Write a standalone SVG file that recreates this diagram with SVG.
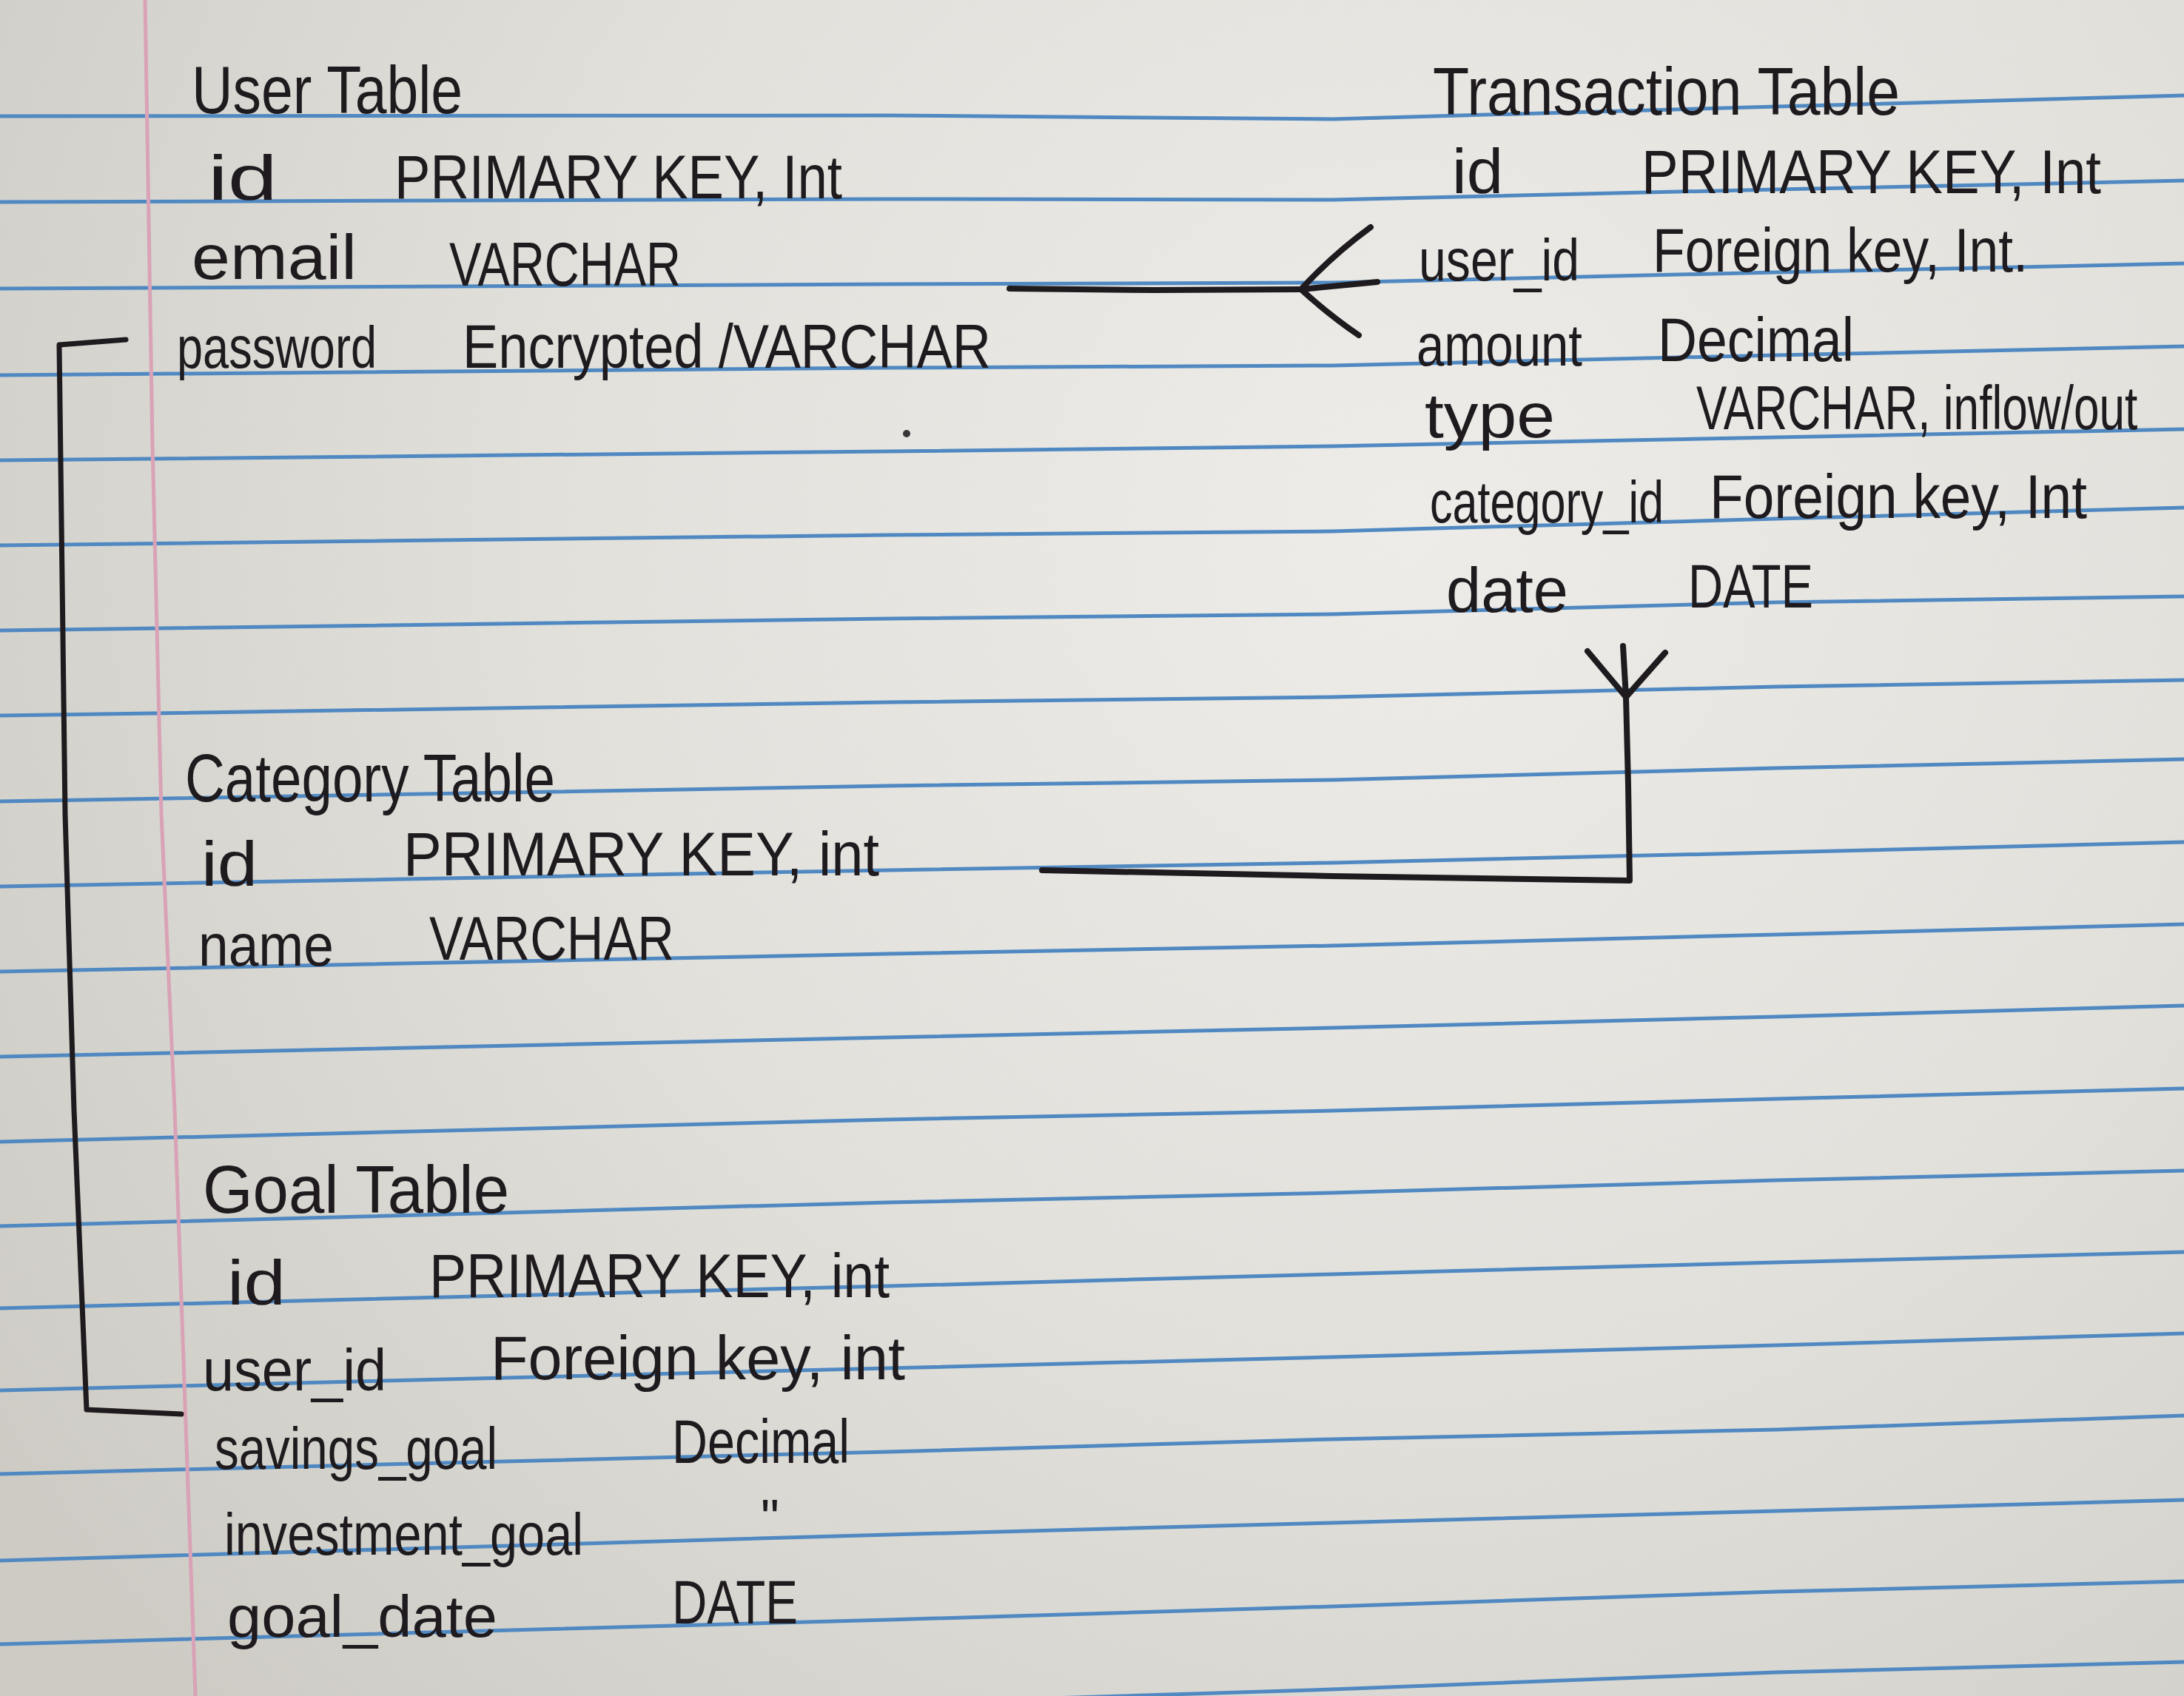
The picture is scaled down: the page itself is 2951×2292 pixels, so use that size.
<svg xmlns="http://www.w3.org/2000/svg" width="2951" height="2292" viewBox="0 0 2951 2292">
<defs>
<radialGradient id="paper" cx="1900" cy="700" r="2300" gradientUnits="userSpaceOnUse">
<stop offset="0" stop-color="#edece8"/>
<stop offset="0.5" stop-color="#e1e0db"/>
<stop offset="1" stop-color="#cdcbc4"/>
</radialGradient>
<style>
.rule{fill:none;stroke:#5089c2;stroke-width:5;stroke-linejoin:round}
.margin{fill:none;stroke:#d9a2b6;stroke-width:5}
.ink{fill:none;stroke:#1e1a1e;stroke-width:8;stroke-linecap:round;stroke-linejoin:round}
text{font-family:"Liberation Sans","DejaVu Sans",sans-serif;fill:#1e1a1e}
.t{font-size:90px}
.f{font-size:80px}
.s{font-size:86px}
.v{font-size:84px}
</style>
</defs>
<rect x="0" y="0" width="2951" height="2292" fill="url(#paper)"/>
<g id="paper-rules">
<polyline class="rule" points="0,157 1200,156 1800,161 2400,144 2951,129"/>
<polyline class="rule" points="0,273 1200,269 1800,270 2400,256 2951,244"/>
<polyline class="rule" points="0,390 1200,384 1800,382 2400,368 2951,356"/>
<polyline class="rule" points="0,507 1200,497 1800,494 2400,480 2951,468"/>
<polyline class="rule" points="0,622 1200,610 1800,603 2400,591 2951,580"/>
<polyline class="rule" points="0,737 1200,723 1800,718 2400,701 2951,686"/>
<polyline class="rule" points="0,852 1200,836 1800,830 2400,814 2951,806"/>
<polyline class="rule" points="0,967 1200,949 1800,942 2400,928 2951,919"/>
<polyline class="rule" points="0,1083 1200,1062 1800,1054 2400,1038 2951,1026"/>
<polyline class="rule" points="0,1198 1200,1176 1800,1166 2400,1152 2951,1138"/>
<polyline class="rule" points="0,1313 1200,1289 1800,1278 2400,1263 2951,1249"/>
<polyline class="rule" points="0,1428 1200,1402 1800,1389 2400,1374 2951,1359"/>
<polyline class="rule" points="0,1543 1200,1513 1800,1501 2400,1485 2951,1471"/>
<polyline class="rule" points="0,1657 1200,1625 1800,1612 2400,1595 2951,1582"/>
<polyline class="rule" points="0,1768 1200,1738 1800,1722 2400,1706 2951,1692"/>
<polyline class="rule" points="0,1879 1200,1849 1800,1834 2400,1818 2951,1802"/>
<polyline class="rule" points="0,1992 1200,1962 1800,1945 2400,1932 2951,1913"/>
<polyline class="rule" points="0,2109 1200,2074 1800,2058 2400,2042 2951,2027"/>
<polyline class="rule" points="0,2222 1200,2189 1800,2171 2400,2151 2951,2137"/>
<polyline class="rule" points="0,2337 1200,2302 1800,2283 2400,2260 2951,2246"/>
<polyline class="margin" points="196,0 206,600 218,1100 236,1500 264,2292"/>
<circle cx="1225" cy="586" r="5" fill="#3a3638"/>
</g>
<g id="user-table">
<text class="t" x="259" y="153" textLength="366" lengthAdjust="spacingAndGlyphs">User Table</text>
<text class="s" x="281" y="270" textLength="94" lengthAdjust="spacingAndGlyphs">id</text>
<text class="v" x="533" y="268" textLength="605" lengthAdjust="spacingAndGlyphs">PRIMARY KEY, Int</text>
<text class="s" x="259" y="377" textLength="223" lengthAdjust="spacingAndGlyphs">email</text>
<text class="v" x="607" y="386" textLength="313" lengthAdjust="spacingAndGlyphs">VARCHAR</text>
<text class="f" x="239" y="497" textLength="270" lengthAdjust="spacingAndGlyphs">password</text>
<text class="v" x="625" y="497" textLength="714" lengthAdjust="spacingAndGlyphs">Encrypted /VARCHAR</text>
</g>
<g id="transaction-table">
<text class="t" x="1936" y="155" textLength="631" lengthAdjust="spacingAndGlyphs">Transaction Table</text>
<text class="s" x="1962" y="261" textLength="69" lengthAdjust="spacingAndGlyphs">id</text>
<text class="v" x="2218" y="261" textLength="621" lengthAdjust="spacingAndGlyphs">PRIMARY KEY, Int</text>
<text class="f" x="1917" y="379" textLength="217" lengthAdjust="spacingAndGlyphs">user_id</text>
<text class="v" x="2233" y="367" textLength="507" lengthAdjust="spacingAndGlyphs">Foreign key, Int.</text>
<text class="f" x="1914" y="494" textLength="224" lengthAdjust="spacingAndGlyphs">amount</text>
<text class="v" x="2240" y="488" textLength="265" lengthAdjust="spacingAndGlyphs">Decimal</text>
<text class="s" x="1925" y="591" textLength="176" lengthAdjust="spacingAndGlyphs">type</text>
<text class="v" transform="translate(2292,580) scale(0.74,1)" x="0" y="0">VARCHAR, inflow/out</text>
<text class="f" x="1932" y="706" textLength="316" lengthAdjust="spacingAndGlyphs">category_id</text>
<text class="v" x="2310" y="700" textLength="510" lengthAdjust="spacingAndGlyphs">Foreign key, Int</text>
<text class="s" x="1954" y="827" textLength="165" lengthAdjust="spacingAndGlyphs">date</text>
<text class="v" x="2281" y="821" textLength="169" lengthAdjust="spacingAndGlyphs">DATE</text>
</g>
<g id="category-table">
<text class="t" x="250" y="1083" textLength="500" lengthAdjust="spacingAndGlyphs">Category Table</text>
<text class="s" x="272" y="1197" textLength="76" lengthAdjust="spacingAndGlyphs">id</text>
<text class="v" x="545" y="1183" textLength="643" lengthAdjust="spacingAndGlyphs">PRIMARY KEY, int</text>
<text class="f" x="268" y="1305" textLength="183" lengthAdjust="spacingAndGlyphs">name</text>
<text class="v" x="580" y="1297" textLength="331" lengthAdjust="spacingAndGlyphs">VARCHAR</text>
</g>
<g id="goal-table">
<text class="t" x="274" y="1639" textLength="414" lengthAdjust="spacingAndGlyphs">Goal Table</text>
<text class="s" x="307" y="1763" textLength="79" lengthAdjust="spacingAndGlyphs">id</text>
<text class="v" x="580" y="1753" textLength="622" lengthAdjust="spacingAndGlyphs">PRIMARY KEY, int</text>
<text class="f" x="274" y="1879" textLength="248" lengthAdjust="spacingAndGlyphs">user_id</text>
<text class="v" x="663" y="1864" textLength="560" lengthAdjust="spacingAndGlyphs">Foreign key, int</text>
<text class="f" x="290" y="1985" textLength="382" lengthAdjust="spacingAndGlyphs">savings_goal</text>
<text class="v" x="908" y="1977" textLength="240" lengthAdjust="spacingAndGlyphs">Decimal</text>
<text class="f" x="303" y="2101" textLength="485" lengthAdjust="spacingAndGlyphs">investment_goal</text>
<text class="v" x="1028" y="2076" style="font-size:70px">"</text>
<text class="f" x="307" y="2212" textLength="365" lengthAdjust="spacingAndGlyphs">goal_date</text>
<text class="v" x="908" y="2194" textLength="170" lengthAdjust="spacingAndGlyphs">DATE</text>
</g>
<g id="connectors">
<g id="user-transaction">
<polyline class="ink" points="1364,390 1560,392 1758,391"/>
<path class="ink" d="M1758,391 Q1800,345 1852,307"/>
<path class="ink" d="M1758,391 L1861,381"/>
<path class="ink" d="M1758,391 Q1795,425 1836,453"/>
</g>
<g id="category-transaction">
<polyline class="ink" points="1408,1176 1800,1184 2202,1190 2200,1060 2197,942"/>
<path class="ink" d="M2197,942 L2145,880"/>
<path class="ink" d="M2197,942 L2193,873"/>
<path class="ink" d="M2197,942 L2250,882"/>
</g>
<g id="user-goal">
<polyline class="ink" style="stroke-width:7" points="170,459 80,466 88,1100 100,1500 117,1905 245,1911"/>
</g>
</g>
</svg>
